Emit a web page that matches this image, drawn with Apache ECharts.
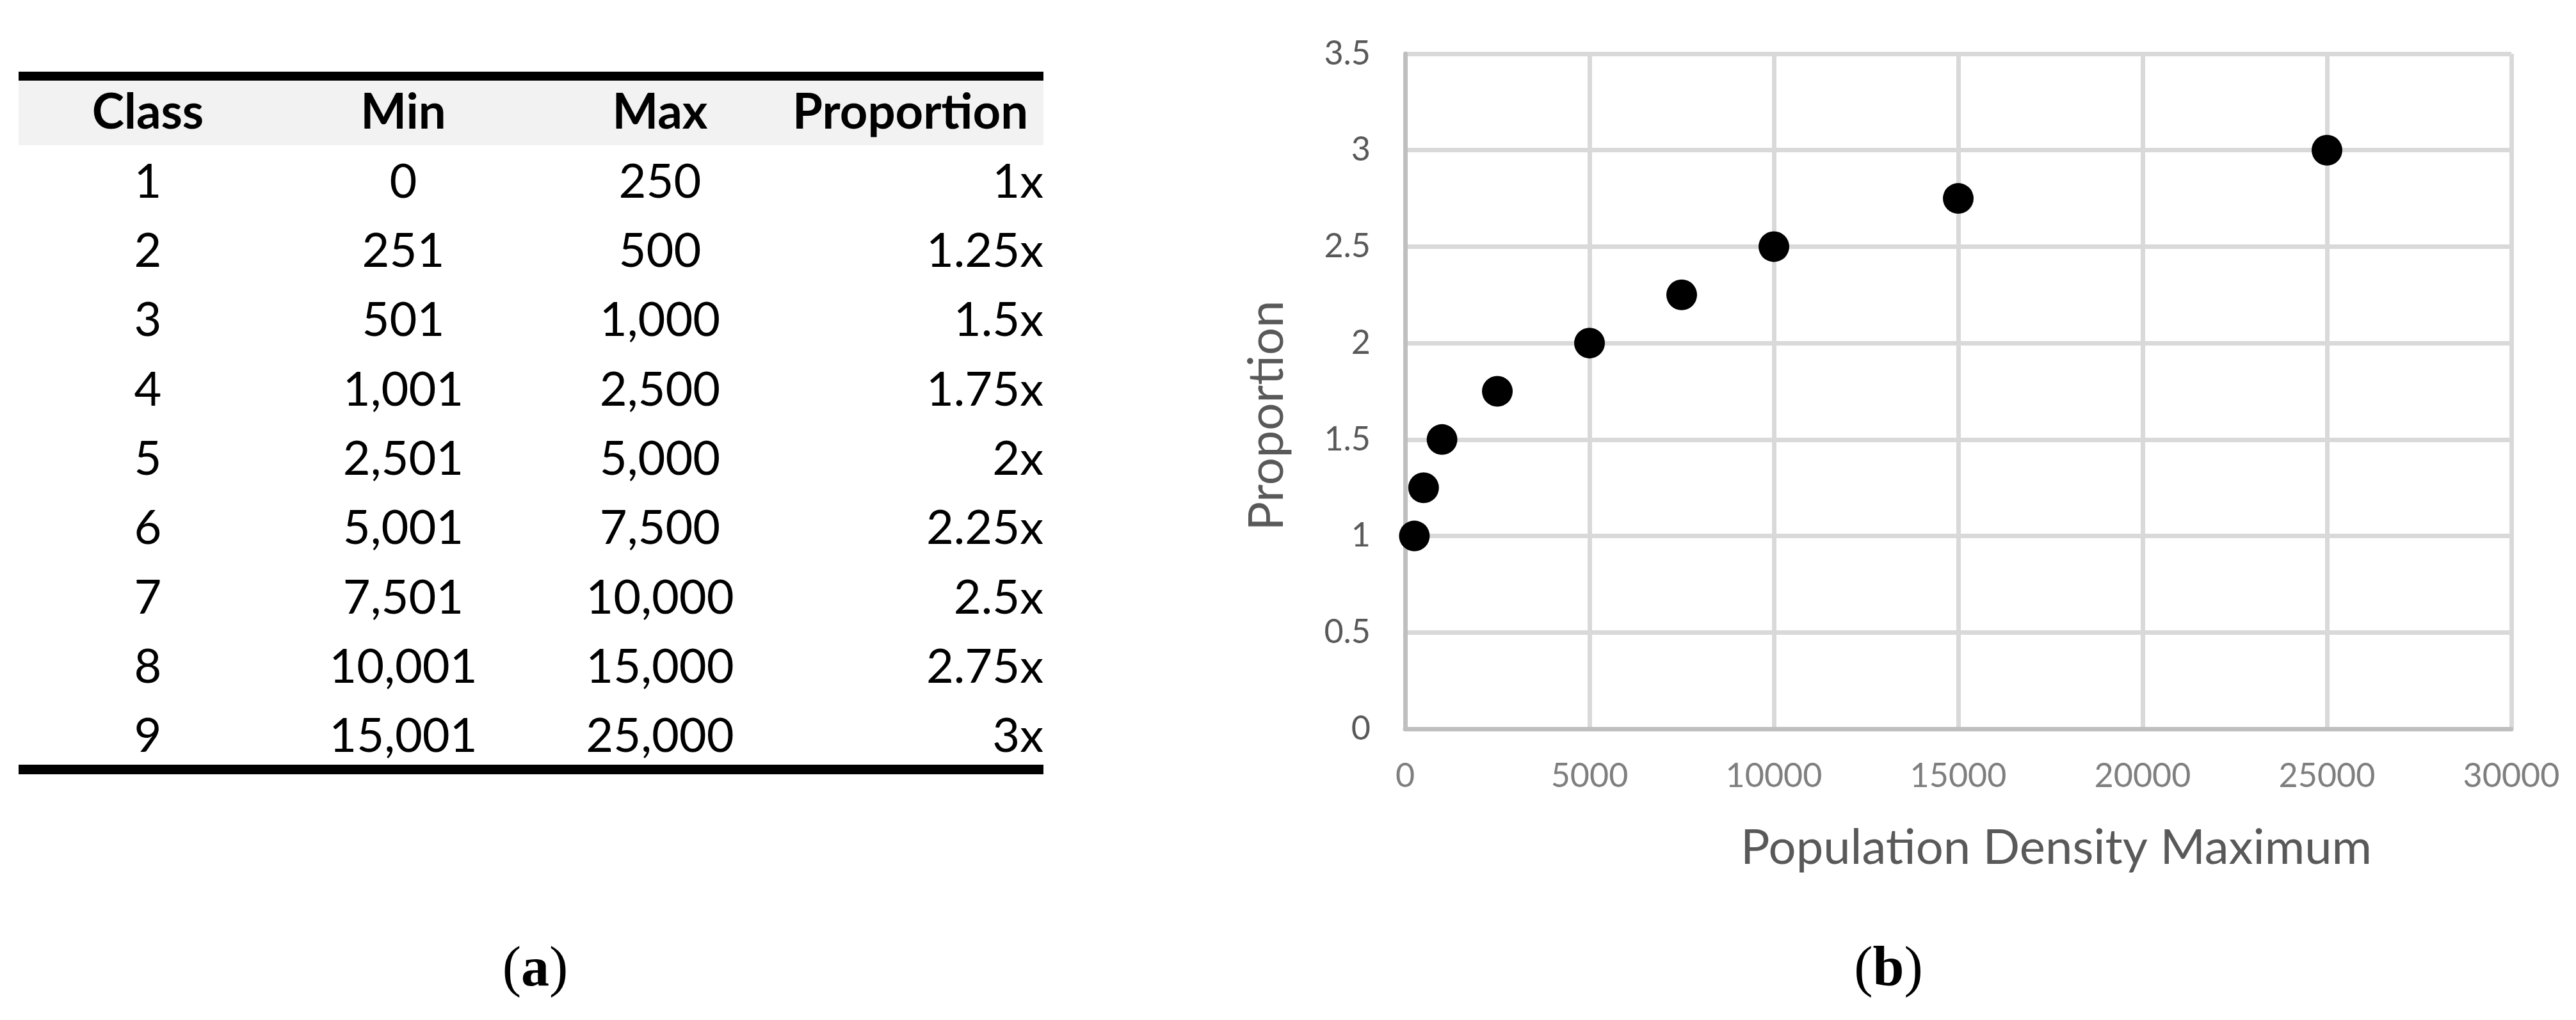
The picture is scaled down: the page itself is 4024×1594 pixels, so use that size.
<!DOCTYPE html>
<html>
<head>
<meta charset="utf-8">
<title>Population density classes</title>
<script src="https://cdn.jsdelivr.net/npm/echarts@6/dist/echarts.min.js"></script>
<style>
  html, body { margin: 0; padding: 0; background: #fff; }
  #main { width: 4024px; height: 1594px; }
</style>
</head>
<body>
<div id="main"></div>
<script>
// table (a)
const classes = ['1', '2', '3', '4', '5', '6', '7', '8', '9'];
const minValues = ['0', '251', '501', '1,001', '2,501', '5,001', '7,501', '10,001', '15,001'];
const maxValues = ['250', '500', '1,000', '2,500', '5,000', '7,500', '10,000', '15,000', '25,000'];
const proportionLabels = ['1x', '1.25x', '1.5x', '1.75x', '2x', '2.25x', '2.5x', '2.75x', '3x'];
const headers = ['Class', 'Min', 'Max', 'Proportion'];

// scatter (b)
const densityMax = [250, 500, 1000, 2500, 5000, 7500, 10000, 15000, 25000];
const proportion = [1, 1.25, 1.5, 1.75, 2, 2.25, 2.5, 2.75, 3];

const FONT = 'Lato, "Open Sans", sans-serif';

const chart = echarts.init(document.getElementById('main'));

// table layout
const tbl = {
  left: 29, right: 1630,
  ruleTop: 112, ruleH: 14,
  headTop: 126, headBottom: 227, headY: 176,
  rowY: 285, rowStep: 108.3,
  ruleBottom: 1195,
  colCenter: [231, 630, 1031],
  propRight: 1630, propHeadRight: 1606
};

function txt(text, x, y, align, font) {
  return {
    type: 'text', x: x, y: y, z: 10,
    style: {
      text: text, font: font, fill: '#000',
      align: align, verticalAlign: 'middle',
      textAlign: align, textVerticalAlign: 'middle'
    }
  };
}

const graphics = [];
graphics.push({
  type: 'rect', z: 1,
  shape: { x: tbl.left, y: tbl.headTop, width: tbl.right - tbl.left, height: tbl.headBottom - tbl.headTop },
  style: { fill: '#f2f2f2' }
});
graphics.push({
  type: 'rect', z: 2,
  shape: { x: tbl.left, y: tbl.ruleTop, width: tbl.right - tbl.left, height: tbl.ruleH },
  style: { fill: '#000' }
});
graphics.push({
  type: 'rect', z: 2,
  shape: { x: tbl.left, y: tbl.ruleBottom, width: tbl.right - tbl.left, height: 15 },
  style: { fill: '#000' }
});

const headFont = 'bold 76px ' + FONT;
const bodyFont = '74px ' + FONT;
headers.slice(0, 3).forEach(function (h, i) {
  graphics.push(txt(h, tbl.colCenter[i], tbl.headY, 'center', headFont));
});
graphics.push(txt(headers[3], tbl.propHeadRight, tbl.headY, 'right', headFont));

classes.forEach(function (c, i) {
  const y = tbl.rowY + i * tbl.rowStep;
  graphics.push(txt(c, tbl.colCenter[0], y, 'center', bodyFont));
  graphics.push(txt(minValues[i], tbl.colCenter[1], y, 'center', bodyFont));
  graphics.push(txt(maxValues[i], tbl.colCenter[2], y, 'center', bodyFont));
  graphics.push(txt(proportionLabels[i], tbl.propRight, y, 'right', bodyFont));
});

// panel captions
function caption(letter, x) {
  return {
    type: 'text', x: x, y: 1517, z: 10,
    style: {
      text: '{p|(}{b|' + letter + '}{p|)}',
      align: 'center', verticalAlign: 'middle',
      textAlign: 'center', textVerticalAlign: 'middle',
      fill: '#000',
      rich: {
        p: { fontFamily: '"Liberation Serif", serif', fontSize: 88, fill: '#000', color: '#000' },
        b: { fontFamily: '"Liberation Serif", serif', fontSize: 88, fontWeight: 'bold', fill: '#000', color: '#000' }
      }
    }
  };
}
graphics.push(caption('a', 836));
graphics.push(caption('b', 2950));

const option = {
  backgroundColor: '#fff',
  animation: false,
  grid: {
    left: 2195, top: 84, width: 1728, height: 1055,
    containLabel: false,
    outerBoundsMode: 'none'
  },
  xAxis: {
    type: 'value',
    min: 0, max: 30000, interval: 5000,
    name: 'Population Density Maximum',
    nameLocation: 'middle',
    nameGap: 148,
    nameTextStyle: {
      color: '#595959', fontFamily: FONT, fontSize: 76,
      verticalAlign: 'top',
      padding: [0, 0, 0, 306]
    },
    axisLine: { show: true, lineStyle: { color: '#bfbfbf', width: 7 } },
    axisTick: { show: false },
    axisLabel: {
      color: '#7f7f7f', fontFamily: FONT, fontSize: 52, margin: 48,
      formatter: function (v) { return String(v); }
    },
    splitLine: { show: true, showMinLine: false, lineStyle: { color: '#d9d9d9', width: 7 } }
  },
  yAxis: {
    type: 'value',
    min: 0, max: 3.5, interval: 0.5,
    name: 'Proportion',
    nameLocation: 'middle',
    nameGap: 178,
    nameTextStyle: {
      color: '#595959', fontFamily: FONT, fontSize: 76,
      padding: [0, 76, 0, 0]
    },
    axisLine: { show: true, lineStyle: { color: '#bfbfbf', width: 7 } },
    axisTick: { show: false },
    axisLabel: {
      color: '#595959', fontFamily: FONT, fontSize: 52, margin: 54
    },
    splitLine: { show: true, showMinLine: false, lineStyle: { color: '#d9d9d9', width: 7 } }
  },
  series: [{
    type: 'scatter',
    symbol: 'circle',
    symbolSize: 48,
    itemStyle: { color: '#000', opacity: 1 },
    data: densityMax.map(function (d, i) { return [d, proportion[i]]; }),
    z: 5
  }],
  graphic: graphics
};

chart.setOption(option);
</script>
</body>
</html>
